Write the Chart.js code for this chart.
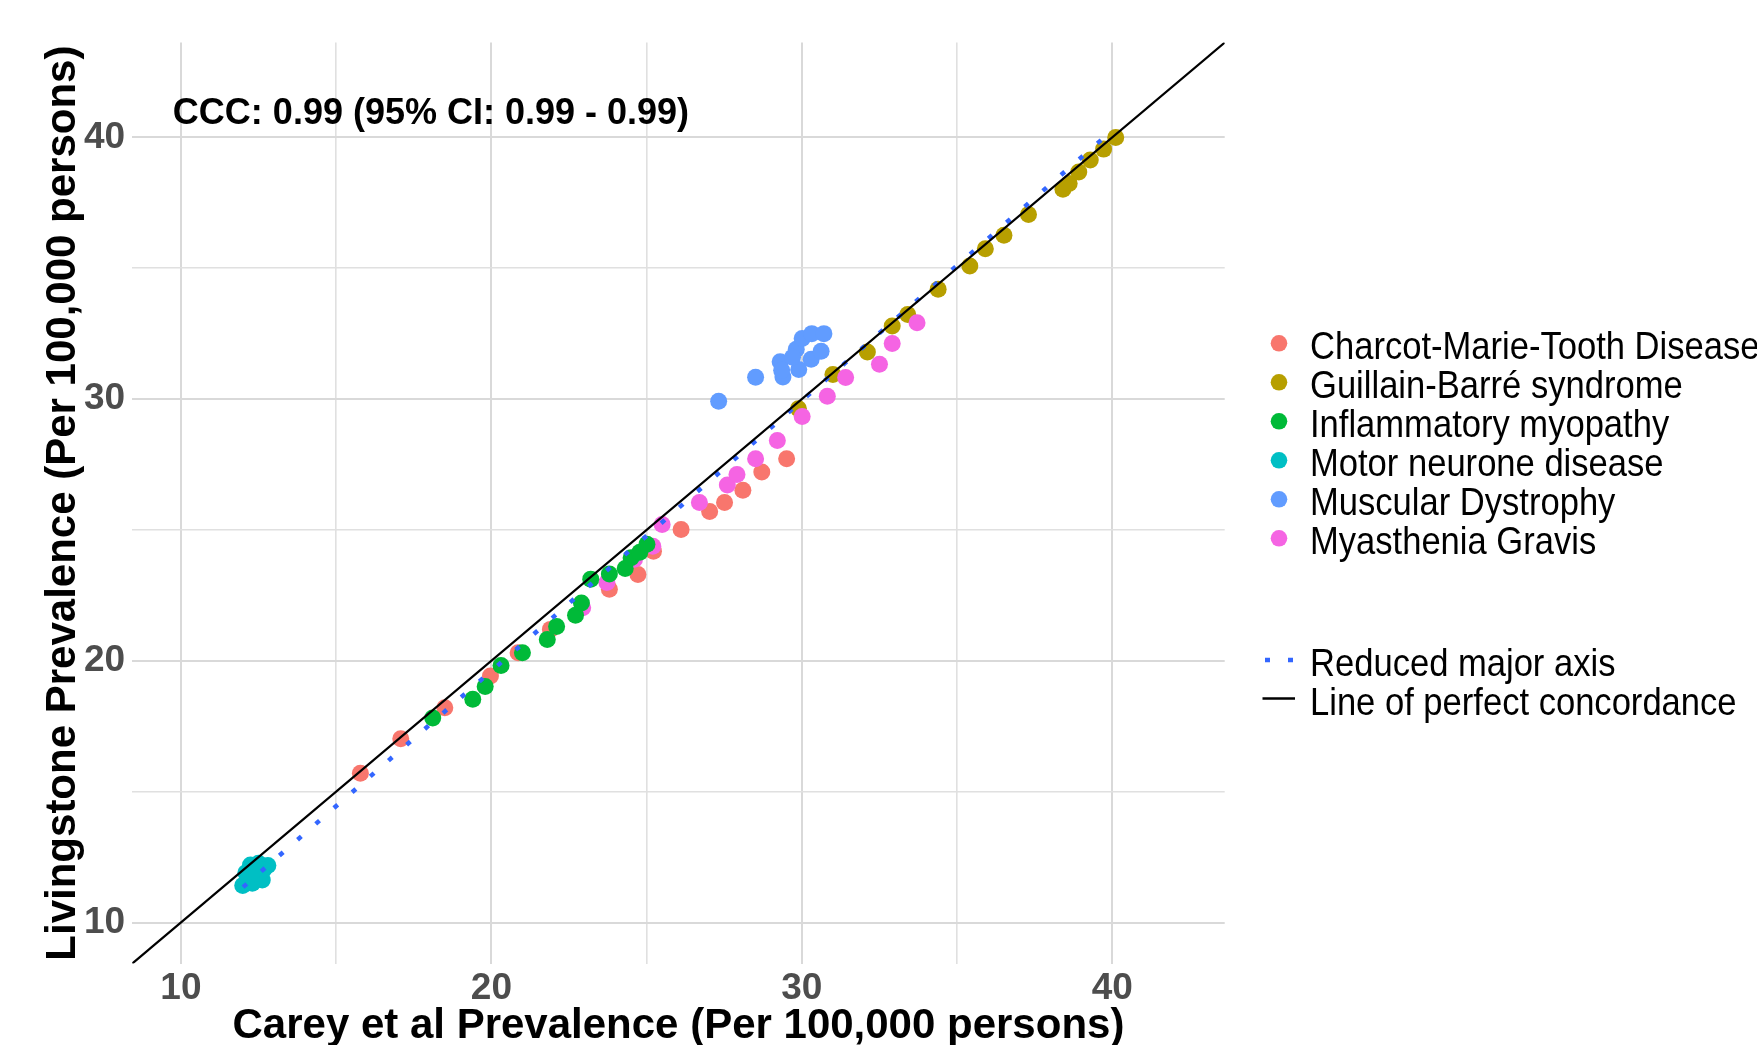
<!DOCTYPE html>
<html><head><meta charset="utf-8">
<script src="https://cdn.jsdelivr.net/npm/chart.js@4"></script>
<style>html,body{margin:0;padding:0;background:#fff;overflow:hidden}#wrap{position:relative;width:1757px;height:1045px}</style>
</head><body><div id="wrap"><canvas id="c"></canvas></div>
<script>
// ---- data ----
const groupNames = ['Charcot-Marie-Tooth Disease','Guillain-Barré syndrome','Inflammatory myopathy','Motor neurone disease','Muscular Dystrophy','Myasthenia Gravis'];
const groupColors = ['#F8766D','#B79F00','#00BA38','#00BFC4','#619CFF','#F564E3'];

const cmtX = [15.78,17.08,18.50,19.97,20.86,21.90,23.80,24.72,25.22,26.11,27.03,27.51,28.10,28.71,29.51];
const cmtY = [15.70,17.02,18.21,19.42,20.31,21.20,22.73,23.30,24.19,25.02,25.70,26.05,26.52,27.21,27.72];

const gbsX = [29.89,31.00,32.11,32.91,33.41,34.39,35.41,35.91,36.51,37.30,38.41,38.61,38.92,39.29,39.72,40.11];
const gbsY = [29.63,30.94,31.80,32.79,33.23,34.20,35.08,35.74,36.26,37.05,38.02,38.24,38.68,39.13,39.55,39.99];

const imX = [18.11,19.40,19.80,20.31,21.00,21.80,22.10,22.71,22.90,23.20,23.80,24.31,24.50,24.78,25.01];
const imY = [17.81,18.53,19.02,19.82,20.31,20.81,21.31,21.74,22.21,23.12,23.32,23.53,23.94,24.15,24.45];

const mndX = [11.99,12.30,12.62,12.24,12.50,12.80,12.09,12.45,12.66];
const mndY = [11.41,11.50,11.62,12.20,12.26,12.18,11.90,11.88,12.02];

const mdX = [27.32,28.51,29.30,29.39,29.35,29.82,29.90,30.01,30.32,30.30,30.62,30.71,29.70];
const mdY = [29.92,30.83,31.43,30.84,31.10,31.90,31.13,32.31,32.50,31.52,31.83,32.50,31.60];

const mgX = [22.94,23.72,24.61,25.20,25.50,26.70,27.60,27.91,28.51,29.21,30.01,30.82,31.41,32.50,32.91,33.71];
const mgY = [22.03,22.99,23.88,24.38,25.21,26.05,26.72,27.12,27.72,28.42,29.33,30.11,30.82,31.33,32.12,32.92];

const rmaX = [12.00,40.10];
const rmaY = [11.35,40.37];

const axisMin = 8.43, axisMax = 43.62;
const majorTicks = [10,20,30,40];
const minorTicks = [15,25,35];

const lineNames = ['Reduced major axis','Line of perfect concordance'];
const cccText = 'CCC: 0.99 (95% CI: 0.99 - 0.99)';
const cccPos = {x: 9.74, y: 40.87};

const xTitle = 'Carey et al Prevalence (Per 100,000 persons)';
const yTitle = 'Livingstone Prevalence (Per 100,000 persons)';

// ---- build ----
const FONT = "'Liberation Sans', Arial, Helvetica, sans-serif";
const toPts = (xs, ys) => xs.map((x, i) => ({x: x, y: ys[i]}));
const groupXs = [cmtX, gbsX, imX, mndX, mdX, mgX];
const groupYs = [cmtY, gbsY, imY, mndY, mdY, mgY];
const drawOrder = [7, 6, 2, 4, 5, 3];

const pointSets = groupNames.map((n, i) => ({
  label: n,
  data: toPts(groupXs[i], groupYs[i]),
  backgroundColor: groupColors[i],
  borderWidth: 0,
  pointRadius: 8.5,
  pointHoverRadius: 8.5,
  order: drawOrder[i]
}));

const lineSets = [
  {label: lineNames[0], data: toPts(rmaX, rmaY), showLine: true, pointRadius: 0, borderColor: '#3366FF', borderWidth: 4.5, borderDash: [5, 19.1], borderCapStyle: 'butt', fill: false, order: 1},
  {label: lineNames[1], data: [{x: axisMin, y: axisMin}, {x: axisMax, y: axisMax}], showLine: true, pointRadius: 0, borderColor: '#000000', borderWidth: 2.2, fill: false, order: 0}
];

const tickSet = majorTicks.concat(minorTicks).sort((a, b) => a - b);
const gridColor = '#D9D9D9';

function axisOpts(isX) {
  return {
    type: 'linear',
    min: axisMin, max: axisMax,
    afterBuildTicks: s => { s.ticks = tickSet.map(v => ({value: v})); },
    afterFit: s => { if (isX) s.height = 81.4; else s.width = 132.2; },
    border: {display: false},
    grid: {
      drawTicks: false,
      color: c => (majorTicks.includes(c.tick && c.tick.value) ? gridColor : '#E0E0E0'),
      lineWidth: c => (majorTicks.includes(c.tick && c.tick.value) ? 2 : 1.6)
    },
    ticks: {
      autoSkip: false, maxRotation: 0, minRotation: 0,
      padding: isX ? 3 : 7,
      color: '#4D4D4D',
      font: {family: FONT, size: 37, weight: 'bold'},
      callback: v => (majorTicks.includes(v) ? String(v) : '')
    },
    title: {
      display: true,
      text: isX ? xTitle : yTitle,
      color: '#000000',
      font: {family: FONT, size: 42, weight: 'bold', lineHeight: 0.8},
      padding: isX ? {top: 0, bottom: 1.5} : {top: 46.8, bottom: 0}
    }
  };
}

const overlay = {
  id: 'overlay',
  afterDraw(chart) {
    const ctx = chart.ctx, xs = chart.scales.x, ys = chart.scales.y, ca = chart.chartArea;
    ctx.save();
    // CCC annotation
    ctx.fillStyle = '#000';
    ctx.font = "bold 36px " + FONT;
    ctx.textAlign = 'left';
    ctx.textBaseline = 'middle';
    ctx.fillText(cccText, xs.getPixelForValue(cccPos.x), ys.getPixelForValue(cccPos.y));
    // legend
    const kx = ca.right + 54.3, tx = ca.right + 85.3;
    const y0 = 343.3, dy = 39;
    const drawText = (t, x, y) => {
      ctx.save();
      ctx.translate(x, y);
      ctx.scale(0.875, 1);
      ctx.font = "39.5px " + FONT;
      ctx.fillStyle = '#000';
      ctx.textAlign = 'left';
      ctx.textBaseline = 'alphabetic';
      ctx.fillText(t, 0, 0);
      ctx.restore();
    };
    groupNames.forEach((n, i) => {
      const cy = y0 + i * dy;
      ctx.beginPath();
      ctx.arc(kx, cy, 8.3, 0, Math.PI * 2);
      ctx.fillStyle = groupColors[i];
      ctx.fill();
      drawText(n, tx, cy + 16);
    });
    const ly = [660, 698.5];
    // RMA key
    ctx.beginPath();
    ctx.setLineDash([5, 18]);
    ctx.lineCap = 'butt';
    ctx.strokeStyle = '#3366FF';
    ctx.lineWidth = 4.5;
    ctx.moveTo(kx - 14, ly[0]); ctx.lineTo(kx + 14.5, ly[0]);
    ctx.stroke();
    ctx.setLineDash([]);
    drawText(lineNames[0], tx, ly[0] + 16);
    // concordance key
    ctx.beginPath();
    ctx.strokeStyle = '#000';
    ctx.lineWidth = 2.7;
    ctx.moveTo(kx - 16.5, ly[1]); ctx.lineTo(kx + 16, ly[1]);
    ctx.stroke();
    drawText(lineNames[1], tx, ly[1] + 16);
    ctx.restore();
  }
};

new Chart(document.getElementById('c'), {
  type: 'scatter',
  data: {datasets: pointSets.concat(lineSets)},
  options: {
    responsive: true,
    maintainAspectRatio: false,
    animation: false,
    layout: {padding: {top: 42.6, right: 532.3, left: 0, bottom: 0}},
    scales: {x: axisOpts(true), y: axisOpts(false)},
    plugins: {legend: {display: false}, tooltip: {enabled: false}}
  },
  plugins: [overlay]
});
</script>
</body></html>
